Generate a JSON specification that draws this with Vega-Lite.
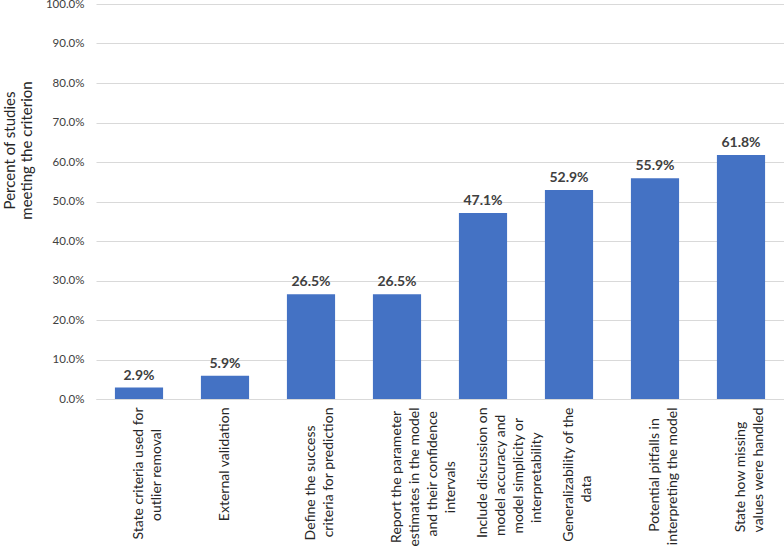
{
  "$schema": "https://vega.github.io/schema/vega-lite/v6.json",
  "width": 688,
  "height": 395,
  "autosize": {"type": "none"},
  "padding": {"left": 96, "top": 4, "right": 0, "bottom": 154},
  "background": "white",
  "config": {"view": {"stroke": null}, "font": "Lato"},
  "data": {
    "values": [
      {"criterion": "State criteria used for|outlier removal\u00a0\u00a0\u00a0\u00a0\u00a0\u00a0\u200b", "share": 0.029},
      {"criterion": "External validation", "share": 0.059},
      {"criterion": "Define the success\u00a0\u00a0\u00a0\u00a0\u00a0\u200b|criteria for prediction", "share": 0.265},
      {"criterion": "Report the parameter\u00a0\u200b|estimates in the model|and their confidence\u00a0\u200b|intervals\u00a0\u00a0\u00a0\u00a0\u00a0\u00a0\u00a0\u00a0\u00a0\u00a0\u00a0\u00a0\u00a0\u00a0\u00a0\u200b", "share": 0.265},
      {"criterion": "Include discussion on|model accuracy and\u00a0\u00a0\u200b|model simplicity or\u00a0\u00a0\u00a0\u200b|interpretability\u00a0\u00a0\u00a0\u00a0\u00a0\u00a0\u00a0\u200b", "share": 0.471},
      {"criterion": "Generalizability of the|data\u00a0\u00a0\u00a0\u00a0\u00a0\u00a0\u00a0\u00a0\u00a0\u00a0\u00a0\u00a0\u00a0\u00a0\u00a0\u00a0\u00a0\u00a0\u00a0\u200b", "share": 0.529},
      {"criterion": "Potential pitfalls in\u00a0\u00a0\u00a0\u200b|interpreting the model", "share": 0.559},
      {"criterion": "State how missing\u00a0\u00a0\u00a0\u00a0\u200b|values were handled", "share": 0.618}
    ]
  },
  "encoding": {
    "x": {
      "field": "criterion",
      "type": "nominal",
      "sort": null,
      "scale": {"paddingInner": 0.44, "paddingOuter": 0.22},
      "axis": {
        "title": null,
        "labelAngle": -90,
        "labelAlign": "right",
        "labelBaseline": "middle",
        "labelExpr": "split(datum.label, '|')",
        "labelFont": "Lato",
        "labelFontSize": 14,
        "labelLineHeight": 18,
        "labelColor": "#262626",
        "labelPadding": 8,
        "labelLimit": 0,
        "labelOverlap": false,
        "ticks": false,
        "domainColor": "#d9d9d9",
        "domainWidth": 1
      }
    },
    "y": {
      "field": "share",
      "type": "quantitative",
      "scale": {"domain": [0, 1], "nice": false},
      "axis": {
        "title": ["Percent of studies", "meeting the criterion"],
        "titleAngle": -90,
        "titleFont": "Lato",
        "titleFontSize": 15,
        "titleFontWeight": "normal",
        "titleColor": "#262626",
        "titleLineHeight": 17,
        "titleBaseline": "top",
        "titleAlign": "center",
        "titleX": -94,
        "titleY": 146,
        "format": ".1%",
        "values": [0, 0.1, 0.2, 0.3, 0.4, 0.5, 0.6, 0.7, 0.8, 0.9, 1.0],
        "labelOverlap": false,
        "labelFont": "Lato",
        "labelFontSize": 11.5,
        "labelColor": "#404040",
        "labelPadding": 12,
        "ticks": false,
        "domain": false,
        "gridColor": "#d9d9d9",
        "gridWidth": 1
      }
    }
  },
  "layer": [
    {"mark": {"type": "bar", "color": "#4472C4"}},
    {
      "mark": {
        "type": "text",
        "dy": -12,
        "fontSize": 14,
        "fontWeight": "bold",
        "font": "Lato",
        "color": "#404040"
      },
      "encoding": {"text": {"field": "share", "type": "quantitative", "format": ".1%"}}
    }
  ]
}
